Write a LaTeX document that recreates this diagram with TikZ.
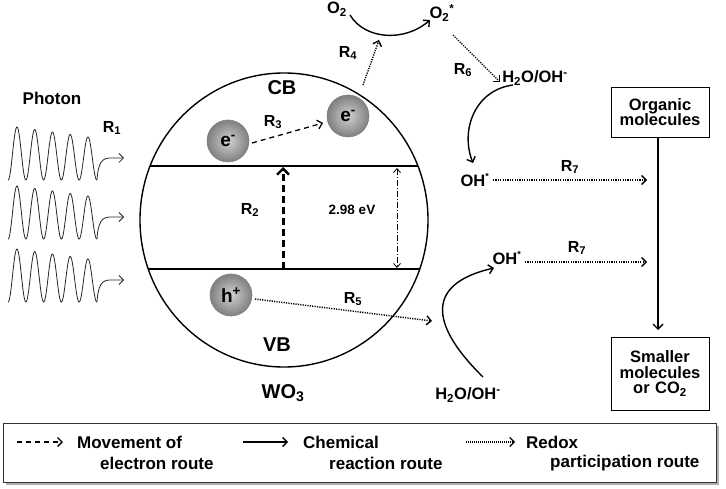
\documentclass[tikz,border=0pt]{standalone}
\usepackage{fontspec}
\setmainfont{Liberation Sans}
\usetikzlibrary{arrows.meta,shadows}
\newcommand\fsz[1]{\fontsize{#1}{#1}\selectfont}
\begin{document}
\begin{tikzpicture}[x=1pt,y=-1pt,
  every node/.style={inner sep=0pt, font=\bfseries},
  tip/.style={-{Straight Barb[length=4.5pt,width=9pt]}},
  solidarr/.style={line width=1.4pt, tip},
  dashedarr/.style={line width=1.3pt, dash pattern=on 5pt off 4pt, tip},
  dottedarr/.style={line width=1.4pt, dash pattern=on 1.2pt off 1.2pt, tip},
  ball/.style={circle, minimum size=42pt, draw=black!50, line width=0.6pt, shading=radial, inner color=black!18, outer color=black!50, font=\bfseries\fsz{19}},
  big/.style={font=\bfseries\fsz{20}},
  rl/.style={font=\bfseries\fsz{16}},
  chem/.style={font=\bfseries\fsz{16.5}},
  boxtxt/.style={draw, line width=0.9pt, align=center, font=\bfseries\fsz{16.5}, text width=98pt},
  legtxt/.style={anchor=west, font=\bfseries\fsz{17}}
]
\useasboundingbox (0,0) rectangle (726,489);

% photons
\foreach \dy in {0,59,122}{
  \draw[line width=0.8pt, black!85, line join=round] plot[domain=8:97, samples=240]
     (\x, {180+\dy - (53-(\x-17)*0.14)*(1+cos(20.2817*(\x-17)))/2});
  \draw[line width=0.8pt, black!85, tip] (97,{180+\dy}) .. controls (98,{163+\dy}) and (102,{158+\dy}) .. (110,{158+\dy}) -- (124,{158+\dy});
}
\node[font=\bfseries\fsz{17}] (photon) at (52,98) {Photon};
\node[rl] (R1) at (112,128) {R\textsubscript{1}};

% WO3 particle
\draw[line width=1.4pt] (284,220) ellipse [x radius=144pt, y radius=147pt];
\draw[line width=1.8pt] (150,166) -- (418,166);
\draw[line width=1.8pt] (148,269) -- (420,269);
\node[big] (CB) at (282,88) {CB};
\node[big] (VB) at (277,345) {VB};
\node[big] (WO3) at (283,393) {WO\textsubscript{3}};
\node[ball] (e1) at (228,141) {e\textsuperscript{-}};
\node[ball] (e2) at (348,116) {e\textsuperscript{-}};
\node[ball] (h) at (231,295) {h\textsuperscript{+}};
\node[rl] (R2) at (250,210) {R\textsubscript{2}};
\node[rl] (R3) at (273,122) {R\textsubscript{3}};
\node[rl] (R5) at (353,299) {R\textsubscript{5}};
\node[font=\bfseries\fsz{13.5}] (gap) at (352,210) {2.98 eV};
\coordinate (vbm) at (283,269);
\coordinate (cbm) at (283,167);
\draw[line width=3pt, dash pattern=on 7pt off 4pt, -{Straight Barb[length=6pt,width=12pt,line width=2.4pt]}] (vbm) -- (cbm);
\coordinate (gtop) at (397,168);
\coordinate (gbot) at (397,268);
\draw[line width=0.8pt, dash pattern=on 6pt off 2pt on 1pt off 2pt, {Straight Barb[length=4pt,width=7pt]}-{Straight Barb[length=4pt,width=7pt]}] (gtop) -- (gbot);
\coordinate (r3s) at (252,143);
\coordinate (r3e) at (323,123);
\draw[dashedarr] (r3s) -- (r3e);

% top reactions
\node[chem] (O2) at (337,9) {O\textsubscript{2}};
\node[chem] (O2s) at (442,13) {O\textsubscript{2}\textsuperscript{*}};
\node[rl] (R4) at (348,53) {R\textsubscript{4}};
\node[rl] (R6) at (463,70) {R\textsubscript{6}};
\node[chem] (H2Ou) at (535,78) {H\textsubscript{2}O/OH\textsuperscript{-}};
\node[chem] (OHu) at (475,180) {OH\textsuperscript{\fsz{9}*}};
\node[chem] (OHl) at (507,258) {OH\textsuperscript{\fsz{9}*}};
\node[chem] (H2Ol) at (468,395) {H\textsubscript{2}O/OH\textsuperscript{-}};
\node[rl] (R7u) at (570,167) {R\textsubscript{7}};
\node[rl] (R7l) at (577,248) {R\textsubscript{7}};

\coordinate (o2a) at (350,15);
\coordinate (o2b) at (430,20);
\draw[solidarr] (o2a) .. controls (365,40) and (405,42) .. (o2b);
\coordinate (r4s) at (363,85);
\coordinate (r4e) at (379,40);
\draw[dottedarr] (r4s) -- (r4e);
\coordinate (r6s) at (453,35);
\coordinate (r6e) at (500,82);
\draw[dottedarr] (r6s) -- (r6e);
\coordinate (hu) at (513,85);
\coordinate (ohu) at (473,163);
\draw[solidarr] (hu) .. controls (475,90) and (460,130) .. (ohu);
\coordinate (hl) at (483,377);
\coordinate (ohl) at (494,268);
\draw[solidarr] (hl) .. controls (435,330) and (420,285) .. (ohl);
\coordinate (r5s) at (255,299);
\coordinate (r5e) at (432,321);
\draw[dottedarr] (r5s) -- (r5e);
\coordinate (r7us) at (493,180);
\coordinate (r7ue) at (647,180);
\draw[dottedarr] (r7us) -- (r7ue);
\coordinate (r7ls) at (525,262);
\coordinate (r7le) at (647,262);
\draw[dottedarr] (r7ls) -- (r7le);

% boxes
\node[boxtxt, minimum height=50pt] (org) at (660,112) {Organic\\[-1pt]molecules};
\node[boxtxt, minimum height=73pt] (small) at (660,373.5) {Smaller\\[-1pt]molecules\\[-1pt]or CO\textsubscript{2}};
\coordinate (va) at (658,137);
\coordinate (vb) at (658,330);
\draw[line width=1.4pt, -{Straight Barb[length=5pt,width=10pt]}] (va) -- (vb);

% legend
\node[draw=black!80, line width=0.9pt, fill=white, minimum width=713pt, minimum height=59pt,
  drop shadow={shadow xshift=2.5pt, shadow yshift=-2.5pt, fill=black!45, opacity=0.7}] (legend) at (359.5,452.5) {};
\coordinate (l1s) at (17,442); \coordinate (l1e) at (63,442);
\coordinate (l2s) at (243,442); \coordinate (l2e) at (288,442);
\coordinate (l3s) at (466,442); \coordinate (l3e) at (515,442);
\draw[line width=1.3pt, dash pattern=on 5pt off 4pt, tip] (l1s) -- (l1e);
\draw[line width=1.3pt, tip] (l2s) -- (l2e);
\draw[line width=1.1pt, dash pattern=on 1pt off 1pt, tip] (l3s) -- (l3e);
\node[legtxt] (m1) at (77,442) {Movement of};
\node[legtxt] (m2) at (100,463) {electron route};
\node[legtxt] (c1) at (303,442) {Chemical};
\node[legtxt] (c2) at (329,463) {reaction route};
\node[legtxt] (x1) at (526,442) {Redox};
\node[legtxt] (x2) at (550,463) {participation route};
\end{tikzpicture}
\end{document}
